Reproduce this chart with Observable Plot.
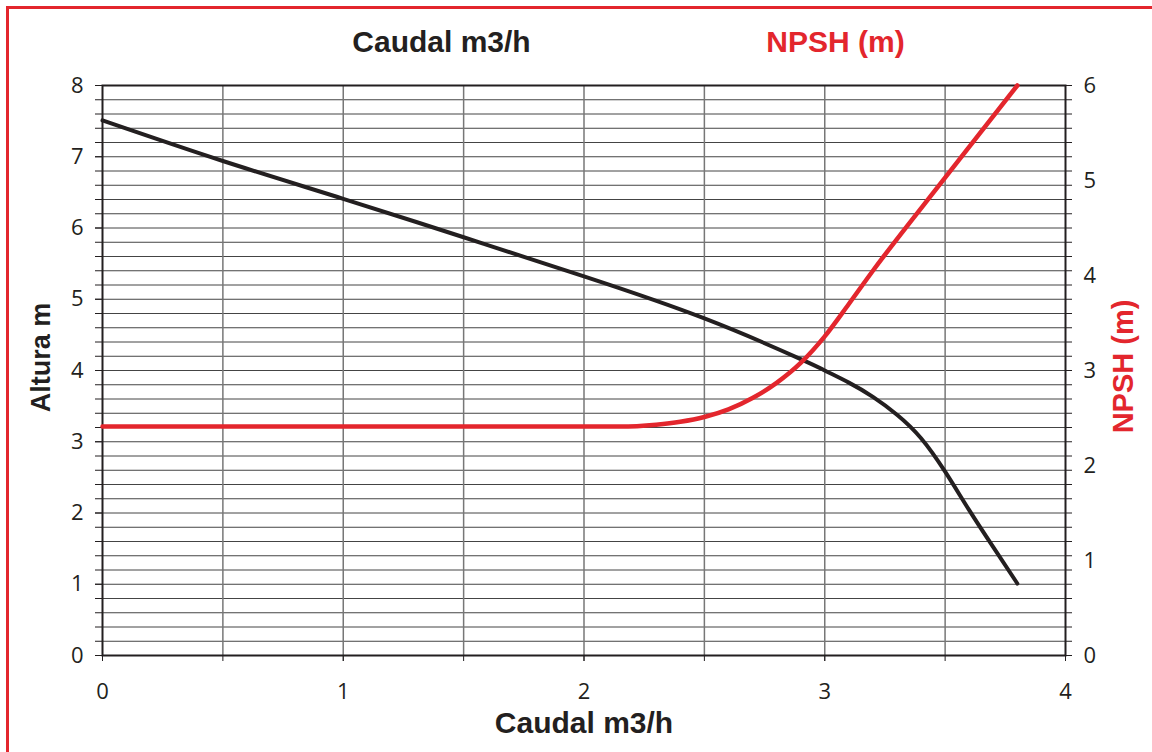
<!DOCTYPE html>
<html>
<head>
<meta charset="utf-8">
<script src="https://cdn.jsdelivr.net/npm/d3@7"></script>
<script src="https://cdn.jsdelivr.net/npm/@observablehq/plot@0.6"></script>
<style>
  html, body { margin: 0; padding: 0; background: #fff; overflow: hidden; }
  #wrap { position: relative; width: 1152px; height: 752px; overflow: hidden; }
  #border { position: absolute; left: 6px; top: 6px; width: 2000px; height: 2000px;
            border-top: 3px solid #e3262d; border-left: 3px solid #e3262d; }
  #chart { position: absolute; left: 0; top: 0; }
</style>
</head>
<body>
<div id="wrap"><div id="border"></div><div id="chart"></div></div>
<script>
// Head curve (Altura m) vs flow (Caudal m3/h)
const headFlow = [0, 0.5, 1, 1.5, 2, 2.5, 2.9, 3.0, 3.1, 3.2, 3.3, 3.4, 3.5, 3.6, 3.7, 3.8];
const head     = [7.51, 6.94, 6.41, 5.87, 5.32, 4.73, 4.16, 4.0, 3.83, 3.63, 3.38, 3.05, 2.58, 2.04, 1.52, 1.01];
// NPSH curve (m, right axis) vs flow
const npshFlow = [0, 2.15, 2.3, 2.4, 2.5, 2.6, 2.7, 2.8, 2.9, 3.0, 3.1, 3.2, 3.5, 3.8];
const npsh     = [2.41, 2.41, 2.43, 2.46, 2.51, 2.59, 2.71, 2.87, 3.08, 3.36, 3.70, 4.05, 5.03, 6.0];
// Tick labels
const xTicks = [0, 1, 2, 3, 4];
const xHalfTicks = [0, 0.5, 1, 1.5, 2, 2.5, 3, 3.5, 4];
const yTicks = [0, 1, 2, 3, 4, 5, 6, 7, 8];
const yRightTicks = [0, 1, 2, 3, 4, 5, 6];
const yMinorStep = 0.2;
const leftMax = 8, rightMax = 6;

const toLeft = v => v * leftMax / rightMax;
const yMinor = d3.range(0, leftMax + 1e-9, yMinorStep).map(v => +v.toFixed(2));

const headData = headFlow.map((x, i) => ({x, y: head[i]}));
const npshData = npshFlow.map((x, i) => ({x, y: toLeft(npsh[i])}));

const ink = "#231f20";
const red = "#e3262d";
const titleFont = "'Liberation Sans', Arial, sans-serif";
const tickFont = "'Open Sans', sans-serif";
const fmt = d => String(d);

const chart = Plot.plot({
  width: 1152,
  height: 752,
  marginLeft: 102,
  marginRight: 87,
  marginTop: 85,
  marginBottom: 97,
  style: {fontFamily: tickFont, fontSize: "22px", color: ink, background: "transparent"},
  x: {domain: [0, 4]},
  y: {domain: [0, leftMax]},
  marks: [
    // grid
    Plot.ruleY(yMinor.filter(v => v > 0 && v < leftMax), {stroke: "#444", strokeWidth: 1}),
    Plot.ruleX(xHalfTicks.filter(v => v > 0 && v < 4), {stroke: "#777", strokeWidth: 1.5}),
    // left axis: minor ticks + labels
    Plot.axisY(yMinor, {anchor: "left", tickSize: 7, tickFormat: () => "", label: null, stroke: ink}),
    Plot.axisY(yTicks, {anchor: "left", tickSize: 7, tickPadding: 12, tickFormat: fmt, label: null,
      fill: ink, stroke: ink, fontSize: 22, fontFamily: tickFont}),
    // right axis: minor ticks at grid lines + NPSH labels
    Plot.axisY(yMinor, {anchor: "right", tickSize: 6, tickFormat: () => "", label: null, stroke: ink}),
    Plot.axisY(yRightTicks, {anchor: "right", y: d => toLeft(d), tickSize: 0, tickPadding: 18,
      tickFormat: fmt, label: null, fill: ink, fontSize: 22, fontFamily: tickFont}),
    // bottom axis
    Plot.axisX(xHalfTicks, {anchor: "bottom", tickSize: 6, tickFormat: () => "", label: null, stroke: ink}),
    Plot.axisX(xTicks, {anchor: "bottom", tickSize: 6, tickPadding: 22, tickFormat: fmt, label: null,
      fill: ink, stroke: ink, fontSize: 22, fontFamily: tickFont}),
    Plot.frame({stroke: ink, strokeWidth: 2}),
    // curves
    Plot.line(headData, {x: "x", y: "y", stroke: ink, strokeWidth: 4, curve: "natural"}),
    Plot.line(npshData, {x: "x", y: "y", stroke: red, strokeWidth: 4.5, curve: "monotone-x"}),
    // titles
    Plot.text(["Caudal m3/h"], {frameAnchor: "top-left", dx: 339, dy: -43, textAnchor: "middle",
      lineAnchor: "middle", fontSize: 30, fontWeight: "bold", fontFamily: titleFont, fill: ink}),
    Plot.text(["NPSH (m)"], {frameAnchor: "top-left", dx: 733, dy: -43, textAnchor: "middle",
      lineAnchor: "middle", fontSize: 30, fontWeight: "bold", fontFamily: titleFont, fill: red}),
    Plot.text(["Caudal m3/h"], {frameAnchor: "bottom", dy: 68, textAnchor: "middle",
      lineAnchor: "middle", fontSize: 30, fontWeight: "bold", fontFamily: titleFont, fill: ink}),
    Plot.text(["Altura m"], {frameAnchor: "left", dx: -61, dy: -13, rotate: -90, textAnchor: "middle",
      lineAnchor: "middle", fontSize: 27, fontWeight: "bold", fontFamily: titleFont, fill: ink}),
    Plot.text(["NPSH (m)"], {frameAnchor: "right", dx: 58, dy: -4, rotate: -90, textAnchor: "middle",
      lineAnchor: "middle", fontSize: 29, fontWeight: "bold", fontFamily: titleFont, fill: red})
  ]
});
document.getElementById("chart").appendChild(chart);
</script>
</body>
</html>
